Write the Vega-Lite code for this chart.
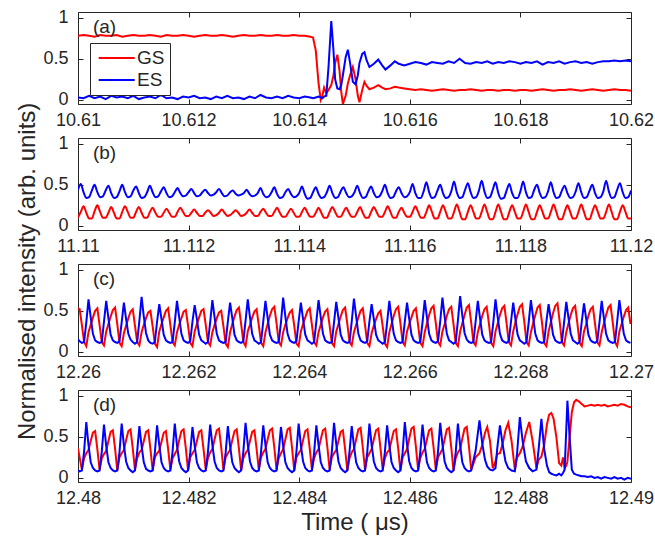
{
"$schema":"https://vega.github.io/schema/vega-lite/v6.json",
"padding":{"left":16,"top":8,"right":0,"bottom":4},
"config":{"font":"Liberation Sans","view":{"stroke":"#262626","strokeWidth":1},
"axis":{"grid":false,"domain":false,"tickColor":"#262626","tickSize":-5,"tickWidth":1,"labelFontSize":18,"labelColor":"#262626","labelFlush":false,"labelOverlap":false,"titleFontSize":24,"titleFontWeight":"normal","titleColor":"#262626","titlePadding":3},
"axisX":{"labelPadding":12},"axisY":{"labelPadding":15},
"title":{"fontSize":24,"fontWeight":"normal","color":"#262626"}},
"title":{"text":"Normalised intensity (arb. units)","orient":"left","anchor":"middle","offset":2},
"datasets":{
"a":[
{"t":10.61,"GS":0.78,"ES":0.03},{"t":10.6101,"GS":0.79,"ES":0.02},{"t":10.6102,"GS":0.78,"ES":0.05},{"t":10.6103,"GS":0.77,"ES":0.02},{"t":10.6104,"GS":0.79,"ES":0.04},{"t":10.6105,"GS":0.78,"ES":0.01},{"t":10.6106,"GS":0.78,"ES":0.05},{"t":10.6107,"GS":0.79,"ES":0.03},{"t":10.6108,"GS":0.77,"ES":0.04},{"t":10.6109,"GS":0.78,"ES":0.02},
{"t":10.611,"GS":0.79,"ES":0.05},{"t":10.6111,"GS":0.78,"ES":0.01},{"t":10.6112,"GS":0.78,"ES":0.03},{"t":10.6113,"GS":0.79,"ES":0.04},{"t":10.6114,"GS":0.78,"ES":0.02},{"t":10.6115,"GS":0.77,"ES":0.06},{"t":10.6116,"GS":0.79,"ES":0.02},{"t":10.6117,"GS":0.78,"ES":0.03},{"t":10.6118,"GS":0.78,"ES":0.01},{"t":10.6119,"GS":0.79,"ES":0.04},
{"t":10.612,"GS":0.78,"ES":0.03},{"t":10.6121,"GS":0.77,"ES":0.05},{"t":10.6122,"GS":0.78,"ES":0.02},{"t":10.6123,"GS":0.79,"ES":0.03},{"t":10.6124,"GS":0.78,"ES":0.01},{"t":10.6125,"GS":0.78,"ES":0.04},{"t":10.6126,"GS":0.79,"ES":0.02},{"t":10.6127,"GS":0.78,"ES":0.05},{"t":10.6128,"GS":0.77,"ES":0.02},{"t":10.6129,"GS":0.78,"ES":0.03},
{"t":10.613,"GS":0.79,"ES":0.01},{"t":10.6131,"GS":0.78,"ES":0.04},{"t":10.6132,"GS":0.78,"ES":0.02},{"t":10.6133,"GS":0.79,"ES":0.06},{"t":10.6134,"GS":0.78,"ES":0.03},{"t":10.6135,"GS":0.78,"ES":0.02},{"t":10.6136,"GS":0.79,"ES":0.04},{"t":10.6137,"GS":0.78,"ES":0.02},{"t":10.6138,"GS":0.78,"ES":0.05},{"t":10.6139,"GS":0.79,"ES":0.03},
{"t":10.614,"GS":0.78,"ES":0.02},{"t":10.6141,"GS":0.78,"ES":0.04},{"t":10.6142,"GS":0.77,"ES":0.03},
{"t":10.61425,"GS":0.76,"ES":0.02},{"t":10.6143,"GS":0.6,"ES":0.03},{"t":10.61435,"GS":0.2,"ES":0.04},{"t":10.61439,"GS":0,"ES":0.03},{"t":10.61442,"GS":0.05,"ES":0.02},{"t":10.61445,"GS":0.15,"ES":0.04},{"t":10.61449,"GS":0.08,"ES":0.05},{"t":10.61453,"GS":0.12,"ES":0.4},{"t":10.61458,"GS":0.18,"ES":0.96},{"t":10.61462,"GS":0.3,"ES":0.6},
{"t":10.61465,"GS":0.45,"ES":0.25},{"t":10.61469,"GS":0.55,"ES":0.14},{"t":10.61473,"GS":0.35,"ES":0.13},{"t":10.61476,"GS":0.1,"ES":0.18},{"t":10.61479,"GS":-0.05,"ES":0.3},{"t":10.61484,"GS":0.05,"ES":0.52},{"t":10.61488,"GS":0.2,"ES":0.61},{"t":10.61492,"GS":0.3,"ES":0.45},{"t":10.61497,"GS":0.4,"ES":0.22},{"t":10.61502,"GS":0.25,"ES":0.19},
{"t":10.61506,"GS":0.05,"ES":0.3},{"t":10.61509,"GS":-0.03,"ES":0.45},{"t":10.61514,"GS":0.12,"ES":0.56},{"t":10.61518,"GS":0.22,"ES":0.58},{"t":10.61522,"GS":0.17,"ES":0.48},{"t":10.61527,"GS":0.13,"ES":0.4},{"t":10.61535,"GS":0.15,"ES":0.44},{"t":10.61543,"GS":0.18,"ES":0.49},{"t":10.6155,"GS":0.15,"ES":0.42},{"t":10.61556,"GS":0.13,"ES":0.37},
{"t":10.61565,"GS":0.14,"ES":0.42},{"t":10.61573,"GS":0.16,"ES":0.47},{"t":10.6158,"GS":0.15,"ES":0.44},{"t":10.6159,"GS":0.14,"ES":0.42},
{"t":10.616,"GS":0.13,"ES":0.44},{"t":10.6161,"GS":0.12,"ES":0.46},{"t":10.6162,"GS":0.13,"ES":0.45},{"t":10.6163,"GS":0.12,"ES":0.43},{"t":10.6164,"GS":0.11,"ES":0.46},{"t":10.6165,"GS":0.12,"ES":0.45},{"t":10.6166,"GS":0.13,"ES":0.44},{"t":10.6167,"GS":0.12,"ES":0.47},{"t":10.6168,"GS":0.11,"ES":0.45},{"t":10.6169,"GS":0.12,"ES":0.5},
{"t":10.617,"GS":0.12,"ES":0.45},{"t":10.6171,"GS":0.13,"ES":0.44},{"t":10.6172,"GS":0.12,"ES":0.46},{"t":10.6173,"GS":0.11,"ES":0.45},{"t":10.6174,"GS":0.12,"ES":0.47},{"t":10.6175,"GS":0.12,"ES":0.44},{"t":10.6176,"GS":0.11,"ES":0.46},{"t":10.6177,"GS":0.12,"ES":0.45},{"t":10.6178,"GS":0.12,"ES":0.47},{"t":10.6179,"GS":0.11,"ES":0.46},
{"t":10.618,"GS":0.12,"ES":0.44},{"t":10.6181,"GS":0.12,"ES":0.46},{"t":10.6182,"GS":0.11,"ES":0.45},{"t":10.6183,"GS":0.12,"ES":0.47},{"t":10.6184,"GS":0.13,"ES":0.43},{"t":10.6185,"GS":0.12,"ES":0.46},{"t":10.6186,"GS":0.11,"ES":0.45},{"t":10.6187,"GS":0.12,"ES":0.47},{"t":10.6188,"GS":0.12,"ES":0.44},{"t":10.6189,"GS":0.13,"ES":0.46},
{"t":10.619,"GS":0.12,"ES":0.47},{"t":10.6191,"GS":0.11,"ES":0.45},{"t":10.6192,"GS":0.12,"ES":0.46},{"t":10.6193,"GS":0.13,"ES":0.44},{"t":10.6194,"GS":0.12,"ES":0.46},{"t":10.6195,"GS":0.11,"ES":0.47},{"t":10.6196,"GS":0.12,"ES":0.47},{"t":10.6197,"GS":0.13,"ES":0.48},{"t":10.6198,"GS":0.12,"ES":0.47},{"t":10.6199,"GS":0.12,"ES":0.48},{"t":10.62,"GS":0.11,"ES":0.47}
],
"b":[
{"t":11.11,"GS":0.1,"ES":0.44},
{"t":11.11005,"GS":0.17,"ES":0.51},{"t":11.1101,"GS":0.24,"ES":0.41},{"t":11.11015,"GS":0.16,"ES":0.34},{"t":11.1102,"GS":0.09,"ES":0.35},{"t":11.11025,"GS":0.09,"ES":0.43},
{"t":11.1103,"GS":0.18,"ES":0.5},{"t":11.11035,"GS":0.25,"ES":0.41},{"t":11.1104,"GS":0.17,"ES":0.35},{"t":11.11045,"GS":0.1,"ES":0.36},{"t":11.1105,"GS":0.1,"ES":0.43},
{"t":11.11055,"GS":0.16,"ES":0.49},{"t":11.1106,"GS":0.23,"ES":0.4},{"t":11.11065,"GS":0.16,"ES":0.34},{"t":11.1107,"GS":0.09,"ES":0.35},{"t":11.11075,"GS":0.09,"ES":0.42},
{"t":11.1108,"GS":0.17,"ES":0.5},{"t":11.11085,"GS":0.24,"ES":0.41},{"t":11.1109,"GS":0.17,"ES":0.35},{"t":11.11095,"GS":0.1,"ES":0.36},{"t":11.111,"GS":0.1,"ES":0.43},
{"t":11.11105,"GS":0.17,"ES":0.48},{"t":11.1111,"GS":0.23,"ES":0.4},{"t":11.11115,"GS":0.16,"ES":0.34},{"t":11.1112,"GS":0.1,"ES":0.35},{"t":11.11125,"GS":0.1,"ES":0.41},
{"t":11.1113,"GS":0.17,"ES":0.49},{"t":11.11135,"GS":0.22,"ES":0.41},{"t":11.1114,"GS":0.16,"ES":0.35},{"t":11.11145,"GS":0.11,"ES":0.36},{"t":11.1115,"GS":0.11,"ES":0.42},
{"t":11.11155,"GS":0.16,"ES":0.47},{"t":11.1116,"GS":0.21,"ES":0.4},{"t":11.11165,"GS":0.16,"ES":0.35},{"t":11.1117,"GS":0.11,"ES":0.36},{"t":11.11175,"GS":0.11,"ES":0.41},
{"t":11.1118,"GS":0.17,"ES":0.46},{"t":11.11185,"GS":0.22,"ES":0.4},{"t":11.1119,"GS":0.17,"ES":0.36},{"t":11.11195,"GS":0.12,"ES":0.37},{"t":11.112,"GS":0.12,"ES":0.41},
{"t":11.11205,"GS":0.16,"ES":0.45},{"t":11.1121,"GS":0.2,"ES":0.4},{"t":11.11215,"GS":0.16,"ES":0.36},{"t":11.1122,"GS":0.12,"ES":0.37},{"t":11.11225,"GS":0.12,"ES":0.41},
{"t":11.1123,"GS":0.16,"ES":0.44},{"t":11.11235,"GS":0.19,"ES":0.4},{"t":11.1124,"GS":0.16,"ES":0.37},{"t":11.11245,"GS":0.12,"ES":0.38},{"t":11.1125,"GS":0.13,"ES":0.41},
{"t":11.11255,"GS":0.16,"ES":0.45},{"t":11.1126,"GS":0.2,"ES":0.4},{"t":11.11265,"GS":0.16,"ES":0.36},{"t":11.1127,"GS":0.12,"ES":0.37},{"t":11.11275,"GS":0.13,"ES":0.41},
{"t":11.1128,"GS":0.16,"ES":0.43},{"t":11.11285,"GS":0.19,"ES":0.39},{"t":11.1129,"GS":0.16,"ES":0.37},{"t":11.11295,"GS":0.12,"ES":0.38},{"t":11.113,"GS":0.13,"ES":0.4},
{"t":11.11305,"GS":0.16,"ES":0.44},{"t":11.1131,"GS":0.2,"ES":0.39},{"t":11.11315,"GS":0.16,"ES":0.36},{"t":11.1132,"GS":0.12,"ES":0.37},{"t":11.11325,"GS":0.12,"ES":0.4},
{"t":11.1133,"GS":0.17,"ES":0.46},{"t":11.11335,"GS":0.21,"ES":0.39},{"t":11.1134,"GS":0.16,"ES":0.35},{"t":11.11345,"GS":0.12,"ES":0.36},{"t":11.1135,"GS":0.12,"ES":0.41},
{"t":11.11355,"GS":0.17,"ES":0.47},{"t":11.1136,"GS":0.22,"ES":0.39},{"t":11.11365,"GS":0.16,"ES":0.34},{"t":11.1137,"GS":0.11,"ES":0.35},{"t":11.11375,"GS":0.11,"ES":0.41},
{"t":11.1138,"GS":0.16,"ES":0.45},{"t":11.11385,"GS":0.21,"ES":0.39},{"t":11.1139,"GS":0.16,"ES":0.35},{"t":11.11395,"GS":0.11,"ES":0.36},{"t":11.114,"GS":0.11,"ES":0.4},
{"t":11.11405,"GS":0.17,"ES":0.48},{"t":11.1141,"GS":0.22,"ES":0.39},{"t":11.11415,"GS":0.16,"ES":0.33},{"t":11.1142,"GS":0.11,"ES":0.34},{"t":11.11425,"GS":0.11,"ES":0.41},
{"t":11.1143,"GS":0.16,"ES":0.47},{"t":11.11435,"GS":0.22,"ES":0.39},{"t":11.1144,"GS":0.16,"ES":0.34},{"t":11.11445,"GS":0.1,"ES":0.35},{"t":11.1145,"GS":0.1,"ES":0.41},
{"t":11.11455,"GS":0.17,"ES":0.49},{"t":11.1146,"GS":0.23,"ES":0.4},{"t":11.11465,"GS":0.17,"ES":0.34},{"t":11.1147,"GS":0.11,"ES":0.35},{"t":11.11475,"GS":0.11,"ES":0.42},
{"t":11.1148,"GS":0.17,"ES":0.47},{"t":11.11485,"GS":0.22,"ES":0.4},{"t":11.1149,"GS":0.16,"ES":0.35},{"t":11.11495,"GS":0.11,"ES":0.36},{"t":11.115,"GS":0.11,"ES":0.41},
{"t":11.11505,"GS":0.17,"ES":0.49},{"t":11.1151,"GS":0.23,"ES":0.4},{"t":11.11515,"GS":0.16,"ES":0.34},{"t":11.1152,"GS":0.1,"ES":0.35},{"t":11.11525,"GS":0.1,"ES":0.42},
{"t":11.1153,"GS":0.17,"ES":0.48},{"t":11.11535,"GS":0.23,"ES":0.4},{"t":11.1154,"GS":0.17,"ES":0.35},{"t":11.11545,"GS":0.11,"ES":0.36},{"t":11.1155,"GS":0.11,"ES":0.42},
{"t":11.11555,"GS":0.17,"ES":0.5},{"t":11.1156,"GS":0.24,"ES":0.4},{"t":11.11565,"GS":0.17,"ES":0.34},{"t":11.1157,"GS":0.1,"ES":0.35},{"t":11.11575,"GS":0.1,"ES":0.42},
{"t":11.1158,"GS":0.17,"ES":0.47},{"t":11.11585,"GS":0.22,"ES":0.4},{"t":11.1159,"GS":0.16,"ES":0.35},{"t":11.11595,"GS":0.11,"ES":0.36},{"t":11.116,"GS":0.11,"ES":0.41},
{"t":11.11605,"GS":0.17,"ES":0.51},{"t":11.1161,"GS":0.24,"ES":0.4},{"t":11.11615,"GS":0.17,"ES":0.34},{"t":11.1162,"GS":0.1,"ES":0.34},{"t":11.11625,"GS":0.1,"ES":0.42},
{"t":11.1163,"GS":0.17,"ES":0.53},{"t":11.11635,"GS":0.25,"ES":0.41},{"t":11.1164,"GS":0.17,"ES":0.34},{"t":11.11645,"GS":0.09,"ES":0.35},{"t":11.1165,"GS":0.09,"ES":0.43},
{"t":11.11655,"GS":0.17,"ES":0.5},{"t":11.1166,"GS":0.25,"ES":0.4},{"t":11.11665,"GS":0.17,"ES":0.34},{"t":11.1167,"GS":0.09,"ES":0.35},{"t":11.11675,"GS":0.09,"ES":0.42},
{"t":11.1168,"GS":0.17,"ES":0.54},{"t":11.11685,"GS":0.26,"ES":0.41},{"t":11.1169,"GS":0.17,"ES":0.34},{"t":11.11695,"GS":0.08,"ES":0.35},{"t":11.117,"GS":0.08,"ES":0.44},
{"t":11.11705,"GS":0.17,"ES":0.52},{"t":11.1171,"GS":0.25,"ES":0.41},{"t":11.11715,"GS":0.17,"ES":0.34},{"t":11.1172,"GS":0.09,"ES":0.35},{"t":11.11725,"GS":0.09,"ES":0.43},
{"t":11.1173,"GS":0.17,"ES":0.55},{"t":11.11735,"GS":0.26,"ES":0.42},{"t":11.1174,"GS":0.17,"ES":0.34},{"t":11.11745,"GS":0.08,"ES":0.35},{"t":11.1175,"GS":0.08,"ES":0.44},
{"t":11.11755,"GS":0.17,"ES":0.53},{"t":11.1176,"GS":0.26,"ES":0.4},{"t":11.11765,"GS":0.17,"ES":0.33},{"t":11.1177,"GS":0.08,"ES":0.34},{"t":11.11775,"GS":0.08,"ES":0.43},
{"t":11.1178,"GS":0.17,"ES":0.51},{"t":11.11785,"GS":0.25,"ES":0.4},{"t":11.1179,"GS":0.17,"ES":0.34},{"t":11.11795,"GS":0.09,"ES":0.34},{"t":11.118,"GS":0.09,"ES":0.42},
{"t":11.11805,"GS":0.17,"ES":0.54},{"t":11.1181,"GS":0.26,"ES":0.41},{"t":11.11815,"GS":0.17,"ES":0.34},{"t":11.1182,"GS":0.08,"ES":0.35},{"t":11.11825,"GS":0.08,"ES":0.44},
{"t":11.1183,"GS":0.17,"ES":0.5},{"t":11.11835,"GS":0.25,"ES":0.4},{"t":11.1184,"GS":0.17,"ES":0.34},{"t":11.11845,"GS":0.09,"ES":0.35},{"t":11.1185,"GS":0.09,"ES":0.42},
{"t":11.11855,"GS":0.17,"ES":0.53},{"t":11.1186,"GS":0.26,"ES":0.41},{"t":11.11865,"GS":0.17,"ES":0.34},{"t":11.1187,"GS":0.08,"ES":0.35},{"t":11.11875,"GS":0.08,"ES":0.43},
{"t":11.1188,"GS":0.17,"ES":0.49},{"t":11.11885,"GS":0.25,"ES":0.4},{"t":11.1189,"GS":0.17,"ES":0.34},{"t":11.11895,"GS":0.09,"ES":0.35},{"t":11.119,"GS":0.09,"ES":0.42},
{"t":11.11905,"GS":0.17,"ES":0.52},{"t":11.1191,"GS":0.26,"ES":0.41},{"t":11.11915,"GS":0.17,"ES":0.34},{"t":11.1192,"GS":0.08,"ES":0.35},{"t":11.11925,"GS":0.08,"ES":0.43},
{"t":11.1193,"GS":0.17,"ES":0.5},{"t":11.11935,"GS":0.25,"ES":0.4},{"t":11.1194,"GS":0.17,"ES":0.34},{"t":11.11945,"GS":0.09,"ES":0.35},{"t":11.1195,"GS":0.09,"ES":0.42},
{"t":11.11955,"GS":0.17,"ES":0.55},{"t":11.1196,"GS":0.26,"ES":0.42},{"t":11.11965,"GS":0.17,"ES":0.34},{"t":11.1197,"GS":0.08,"ES":0.35},{"t":11.11975,"GS":0.08,"ES":0.44},
{"t":11.1198,"GS":0.17,"ES":0.52},{"t":11.11985,"GS":0.25,"ES":0.41},{"t":11.1199,"GS":0.17,"ES":0.34},{"t":11.11995,"GS":0.09,"ES":0.35},{"t":11.12,"GS":0.09,"ES":0.43}
],
"c":[
{"t":12.26,"GS":0.53,"ES":0.15},{"t":12.26003,"GS":0.52,"ES":0.13},{"t":12.26007,"GS":0.33,"ES":0.11},{"t":12.26011,"GS":0.12,"ES":0.12},{"t":12.26015,"GS":0.07,"ES":0.36},
{"t":12.26019,"GS":0.24,"ES":0.64},{"t":12.26023,"GS":0.33,"ES":0.42},{"t":12.26027,"GS":0.42,"ES":0.22},{"t":12.26031,"GS":0.5,"ES":0.14},{"t":12.26035,"GS":0.53,"ES":0.12},{"t":12.26039,"GS":0.33,"ES":0.11},{"t":12.26043,"GS":0.12,"ES":0.12},{"t":12.26047,"GS":0.08,"ES":0.37},
{"t":12.26051,"GS":0.25,"ES":0.62},{"t":12.26055,"GS":0.34,"ES":0.41},{"t":12.26059,"GS":0.43,"ES":0.21},{"t":12.26063,"GS":0.51,"ES":0.14},{"t":12.26067,"GS":0.54,"ES":0.12},{"t":12.26071,"GS":0.34,"ES":0.11},{"t":12.26075,"GS":0.11,"ES":0.13},{"t":12.26079,"GS":0.07,"ES":0.36},
{"t":12.26083,"GS":0.23,"ES":0.6},{"t":12.26087,"GS":0.32,"ES":0.4},{"t":12.26091,"GS":0.41,"ES":0.22},{"t":12.26095,"GS":0.49,"ES":0.15},{"t":12.26099,"GS":0.52,"ES":0.12},{"t":12.26103,"GS":0.32,"ES":0.1},{"t":12.26107,"GS":0.12,"ES":0.12},{"t":12.26111,"GS":0.08,"ES":0.38},
{"t":12.26115,"GS":0.24,"ES":0.67},{"t":12.26119,"GS":0.33,"ES":0.43},{"t":12.26123,"GS":0.41,"ES":0.23},{"t":12.26127,"GS":0.48,"ES":0.14},{"t":12.26131,"GS":0.5,"ES":0.11},{"t":12.26135,"GS":0.31,"ES":0.1},{"t":12.26139,"GS":0.1,"ES":0.12},{"t":12.26143,"GS":0.06,"ES":0.37},
{"t":12.26147,"GS":0.25,"ES":0.58},{"t":12.26151,"GS":0.34,"ES":0.4},{"t":12.26155,"GS":0.42,"ES":0.21},{"t":12.26159,"GS":0.5,"ES":0.14},{"t":12.26163,"GS":0.53,"ES":0.12},{"t":12.26167,"GS":0.33,"ES":0.11},{"t":12.26171,"GS":0.12,"ES":0.12},{"t":12.26175,"GS":0.08,"ES":0.36},
{"t":12.26179,"GS":0.24,"ES":0.62},{"t":12.26183,"GS":0.33,"ES":0.42},{"t":12.26187,"GS":0.41,"ES":0.22},{"t":12.26191,"GS":0.49,"ES":0.14},{"t":12.26195,"GS":0.51,"ES":0.12},{"t":12.26199,"GS":0.32,"ES":0.11},{"t":12.26203,"GS":0.11,"ES":0.13},{"t":12.26207,"GS":0.07,"ES":0.37},
{"t":12.26211,"GS":0.25,"ES":0.57},{"t":12.26215,"GS":0.34,"ES":0.4},{"t":12.26219,"GS":0.42,"ES":0.21},{"t":12.26223,"GS":0.5,"ES":0.14},{"t":12.26227,"GS":0.52,"ES":0.12},{"t":12.26231,"GS":0.33,"ES":0.1},{"t":12.26235,"GS":0.12,"ES":0.12},{"t":12.26239,"GS":0.08,"ES":0.36},
{"t":12.26243,"GS":0.24,"ES":0.63},{"t":12.26247,"GS":0.33,"ES":0.42},{"t":12.26251,"GS":0.41,"ES":0.22},{"t":12.26255,"GS":0.48,"ES":0.14},{"t":12.26259,"GS":0.5,"ES":0.12},{"t":12.26263,"GS":0.31,"ES":0.11},{"t":12.26267,"GS":0.1,"ES":0.12},{"t":12.26271,"GS":0.06,"ES":0.37},
{"t":12.26275,"GS":0.24,"ES":0.6},{"t":12.26279,"GS":0.34,"ES":0.41},{"t":12.26283,"GS":0.43,"ES":0.21},{"t":12.26287,"GS":0.51,"ES":0.14},{"t":12.26291,"GS":0.54,"ES":0.12},{"t":12.26295,"GS":0.34,"ES":0.11},{"t":12.26299,"GS":0.12,"ES":0.13},{"t":12.26303,"GS":0.07,"ES":0.38},
{"t":12.26307,"GS":0.25,"ES":0.64},{"t":12.26311,"GS":0.33,"ES":0.42},{"t":12.26315,"GS":0.42,"ES":0.22},{"t":12.26319,"GS":0.49,"ES":0.14},{"t":12.26323,"GS":0.52,"ES":0.12},{"t":12.26327,"GS":0.32,"ES":0.1},{"t":12.26331,"GS":0.11,"ES":0.12},{"t":12.26335,"GS":0.07,"ES":0.37},
{"t":12.26339,"GS":0.24,"ES":0.62},{"t":12.26343,"GS":0.34,"ES":0.41},{"t":12.26347,"GS":0.44,"ES":0.21},{"t":12.26351,"GS":0.52,"ES":0.14},{"t":12.26355,"GS":0.55,"ES":0.12},{"t":12.26359,"GS":0.35,"ES":0.11},{"t":12.26363,"GS":0.12,"ES":0.12},{"t":12.26367,"GS":0.08,"ES":0.36},
{"t":12.26371,"GS":0.24,"ES":0.66},{"t":12.26375,"GS":0.33,"ES":0.43},{"t":12.26379,"GS":0.41,"ES":0.22},{"t":12.26383,"GS":0.48,"ES":0.14},{"t":12.26387,"GS":0.51,"ES":0.12},{"t":12.26391,"GS":0.32,"ES":0.11},{"t":12.26395,"GS":0.1,"ES":0.13},{"t":12.26399,"GS":0.07,"ES":0.37},
{"t":12.26403,"GS":0.25,"ES":0.6},{"t":12.26407,"GS":0.34,"ES":0.4},{"t":12.26411,"GS":0.42,"ES":0.21},{"t":12.26415,"GS":0.5,"ES":0.14},{"t":12.26419,"GS":0.53,"ES":0.12},{"t":12.26423,"GS":0.33,"ES":0.1},{"t":12.26427,"GS":0.12,"ES":0.12},{"t":12.26431,"GS":0.08,"ES":0.37},
{"t":12.26435,"GS":0.24,"ES":0.63},{"t":12.26439,"GS":0.33,"ES":0.42},{"t":12.26443,"GS":0.42,"ES":0.22},{"t":12.26447,"GS":0.49,"ES":0.14},{"t":12.26451,"GS":0.52,"ES":0.12},{"t":12.26455,"GS":0.32,"ES":0.11},{"t":12.26459,"GS":0.11,"ES":0.12},{"t":12.26463,"GS":0.07,"ES":0.36},
{"t":12.26467,"GS":0.25,"ES":0.61},{"t":12.26471,"GS":0.34,"ES":0.41},{"t":12.26475,"GS":0.43,"ES":0.21},{"t":12.26479,"GS":0.51,"ES":0.14},{"t":12.26483,"GS":0.54,"ES":0.12},{"t":12.26487,"GS":0.34,"ES":0.11},{"t":12.26491,"GS":0.12,"ES":0.12},{"t":12.26495,"GS":0.08,"ES":0.37},
{"t":12.26499,"GS":0.24,"ES":0.65},{"t":12.26503,"GS":0.33,"ES":0.43},{"t":12.26507,"GS":0.42,"ES":0.22},{"t":12.26511,"GS":0.5,"ES":0.14},{"t":12.26515,"GS":0.53,"ES":0.12},{"t":12.26519,"GS":0.33,"ES":0.11},{"t":12.26523,"GS":0.11,"ES":0.13},{"t":12.26527,"GS":0.07,"ES":0.37},
{"t":12.26531,"GS":0.23,"ES":0.58},{"t":12.26535,"GS":0.32,"ES":0.4},{"t":12.26539,"GS":0.4,"ES":0.21},{"t":12.26543,"GS":0.47,"ES":0.14},{"t":12.26547,"GS":0.5,"ES":0.12},{"t":12.26551,"GS":0.31,"ES":0.1},{"t":12.26555,"GS":0.1,"ES":0.12},{"t":12.26559,"GS":0.06,"ES":0.36},
{"t":12.26563,"GS":0.24,"ES":0.62},{"t":12.26567,"GS":0.34,"ES":0.41},{"t":12.26571,"GS":0.44,"ES":0.22},{"t":12.26575,"GS":0.52,"ES":0.14},{"t":12.26579,"GS":0.55,"ES":0.12},{"t":12.26583,"GS":0.35,"ES":0.11},{"t":12.26587,"GS":0.12,"ES":0.12},{"t":12.26591,"GS":0.08,"ES":0.37},
{"t":12.26595,"GS":0.25,"ES":0.6},{"t":12.26599,"GS":0.34,"ES":0.4},{"t":12.26603,"GS":0.42,"ES":0.21},{"t":12.26607,"GS":0.5,"ES":0.14},{"t":12.26611,"GS":0.53,"ES":0.12},{"t":12.26615,"GS":0.33,"ES":0.11},{"t":12.26619,"GS":0.11,"ES":0.12},{"t":12.26623,"GS":0.07,"ES":0.36},
{"t":12.26627,"GS":0.24,"ES":0.63},{"t":12.26631,"GS":0.35,"ES":0.42},{"t":12.26635,"GS":0.45,"ES":0.22},{"t":12.26639,"GS":0.53,"ES":0.14},{"t":12.26643,"GS":0.56,"ES":0.12},{"t":12.26647,"GS":0.35,"ES":0.11},{"t":12.26651,"GS":0.12,"ES":0.13},{"t":12.26655,"GS":0.08,"ES":0.37},
{"t":12.26659,"GS":0.25,"ES":0.66},{"t":12.26663,"GS":0.34,"ES":0.43},{"t":12.26667,"GS":0.44,"ES":0.22},{"t":12.26671,"GS":0.52,"ES":0.14},{"t":12.26675,"GS":0.55,"ES":0.12},{"t":12.26679,"GS":0.34,"ES":0.1},{"t":12.26683,"GS":0.11,"ES":0.12},{"t":12.26687,"GS":0.07,"ES":0.38},
{"t":12.26691,"GS":0.25,"ES":0.68},{"t":12.26695,"GS":0.35,"ES":0.44},{"t":12.26699,"GS":0.45,"ES":0.23},{"t":12.26703,"GS":0.54,"ES":0.15},{"t":12.26707,"GS":0.57,"ES":0.12},{"t":12.26711,"GS":0.36,"ES":0.11},{"t":12.26715,"GS":0.12,"ES":0.12},{"t":12.26719,"GS":0.08,"ES":0.37},
{"t":12.26723,"GS":0.24,"ES":0.62},{"t":12.26727,"GS":0.34,"ES":0.41},{"t":12.26731,"GS":0.44,"ES":0.21},{"t":12.26735,"GS":0.52,"ES":0.14},{"t":12.26739,"GS":0.55,"ES":0.12},{"t":12.26743,"GS":0.35,"ES":0.11},{"t":12.26747,"GS":0.11,"ES":0.12},{"t":12.26751,"GS":0.07,"ES":0.36},
{"t":12.26755,"GS":0.25,"ES":0.64},{"t":12.26759,"GS":0.35,"ES":0.42},{"t":12.26763,"GS":0.45,"ES":0.22},{"t":12.26767,"GS":0.53,"ES":0.14},{"t":12.26771,"GS":0.56,"ES":0.12},{"t":12.26775,"GS":0.35,"ES":0.11},{"t":12.26779,"GS":0.12,"ES":0.13},{"t":12.26783,"GS":0.08,"ES":0.37},
{"t":12.26787,"GS":0.25,"ES":0.6},{"t":12.26791,"GS":0.36,"ES":0.4},{"t":12.26795,"GS":0.46,"ES":0.21},{"t":12.26799,"GS":0.55,"ES":0.14},{"t":12.26803,"GS":0.58,"ES":0.12},{"t":12.26807,"GS":0.37,"ES":0.1},{"t":12.26811,"GS":0.12,"ES":0.12},{"t":12.26815,"GS":0.08,"ES":0.36},
{"t":12.26819,"GS":0.24,"ES":0.63},{"t":12.26823,"GS":0.35,"ES":0.42},{"t":12.26827,"GS":0.45,"ES":0.22},{"t":12.26831,"GS":0.54,"ES":0.14},{"t":12.26835,"GS":0.57,"ES":0.12},{"t":12.26839,"GS":0.36,"ES":0.11},{"t":12.26843,"GS":0.11,"ES":0.12},{"t":12.26847,"GS":0.07,"ES":0.37},
{"t":12.26851,"GS":0.25,"ES":0.58},{"t":12.26855,"GS":0.36,"ES":0.4},{"t":12.26859,"GS":0.47,"ES":0.21},{"t":12.26863,"GS":0.56,"ES":0.14},{"t":12.26867,"GS":0.59,"ES":0.12},{"t":12.26871,"GS":0.37,"ES":0.11},{"t":12.26875,"GS":0.12,"ES":0.12},{"t":12.26879,"GS":0.08,"ES":0.36},
{"t":12.26883,"GS":0.24,"ES":0.61},{"t":12.26887,"GS":0.35,"ES":0.41},{"t":12.26891,"GS":0.45,"ES":0.22},{"t":12.26895,"GS":0.53,"ES":0.14},{"t":12.26899,"GS":0.56,"ES":0.12},{"t":12.26903,"GS":0.35,"ES":0.1},{"t":12.26907,"GS":0.11,"ES":0.12},{"t":12.26911,"GS":0.07,"ES":0.37},
{"t":12.26915,"GS":0.25,"ES":0.59},{"t":12.26919,"GS":0.34,"ES":0.4},{"t":12.26923,"GS":0.44,"ES":0.21},{"t":12.26927,"GS":0.52,"ES":0.14},{"t":12.26931,"GS":0.55,"ES":0.12},{"t":12.26935,"GS":0.34,"ES":0.11},{"t":12.26939,"GS":0.12,"ES":0.13},{"t":12.26943,"GS":0.08,"ES":0.36},
{"t":12.26947,"GS":0.24,"ES":0.62},{"t":12.26951,"GS":0.35,"ES":0.41},{"t":12.26955,"GS":0.45,"ES":0.22},{"t":12.26959,"GS":0.54,"ES":0.14},{"t":12.26963,"GS":0.57,"ES":0.12},{"t":12.26967,"GS":0.36,"ES":0.11},{"t":12.26971,"GS":0.12,"ES":0.12},{"t":12.26975,"GS":0.07,"ES":0.37},
{"t":12.26979,"GS":0.25,"ES":0.63},{"t":12.26983,"GS":0.34,"ES":0.42},{"t":12.26987,"GS":0.43,"ES":0.22},{"t":12.26991,"GS":0.51,"ES":0.14},{"t":12.26995,"GS":0.54,"ES":0.12},{"t":12.26999,"GS":0.34,"ES":0.11}
],
"d":[
{"t":12.48,"GS":0.36,"ES":0.09},{"t":12.48003,"GS":0.25,"ES":0.08},{"t":12.48007,"GS":0.1,"ES":0.09},{"t":12.48011,"GS":0.24,"ES":0.32},
{"t":12.48015,"GS":0.3,"ES":0.68},{"t":12.48019,"GS":0.34,"ES":0.4},{"t":12.48023,"GS":0.45,"ES":0.19},{"t":12.48027,"GS":0.55,"ES":0.12},{"t":12.48031,"GS":0.57,"ES":0.09},{"t":12.48035,"GS":0.35,"ES":0.08},{"t":12.48039,"GS":0.1,"ES":0.09},{"t":12.48043,"GS":0.24,"ES":0.32},
{"t":12.48047,"GS":0.29,"ES":0.65},{"t":12.48051,"GS":0.33,"ES":0.39},{"t":12.48055,"GS":0.45,"ES":0.19},{"t":12.48059,"GS":0.56,"ES":0.12},{"t":12.48063,"GS":0.58,"ES":0.09},{"t":12.48067,"GS":0.36,"ES":0.08},{"t":12.48071,"GS":0.09,"ES":0.09},{"t":12.48075,"GS":0.25,"ES":0.31},
{"t":12.48079,"GS":0.3,"ES":0.66},{"t":12.48083,"GS":0.34,"ES":0.4},{"t":12.48087,"GS":0.46,"ES":0.2},{"t":12.48091,"GS":0.57,"ES":0.12},{"t":12.48095,"GS":0.59,"ES":0.09},{"t":12.48099,"GS":0.36,"ES":0.07},{"t":12.48103,"GS":0.1,"ES":0.09},{"t":12.48107,"GS":0.24,"ES":0.32},
{"t":12.48111,"GS":0.31,"ES":0.63},{"t":12.48115,"GS":0.34,"ES":0.39},{"t":12.48119,"GS":0.45,"ES":0.19},{"t":12.48123,"GS":0.56,"ES":0.11},{"t":12.48127,"GS":0.58,"ES":0.09},{"t":12.48131,"GS":0.35,"ES":0.08},{"t":12.48135,"GS":0.09,"ES":0.09},{"t":12.48139,"GS":0.25,"ES":0.31},
{"t":12.48143,"GS":0.3,"ES":0.64},{"t":12.48147,"GS":0.33,"ES":0.4},{"t":12.48151,"GS":0.44,"ES":0.19},{"t":12.48155,"GS":0.55,"ES":0.12},{"t":12.48159,"GS":0.57,"ES":0.09},{"t":12.48163,"GS":0.35,"ES":0.08},{"t":12.48167,"GS":0.1,"ES":0.09},{"t":12.48171,"GS":0.24,"ES":0.32},
{"t":12.48175,"GS":0.29,"ES":0.66},{"t":12.48179,"GS":0.34,"ES":0.4},{"t":12.48183,"GS":0.46,"ES":0.2},{"t":12.48187,"GS":0.57,"ES":0.12},{"t":12.48191,"GS":0.59,"ES":0.09},{"t":12.48195,"GS":0.36,"ES":0.07},{"t":12.48199,"GS":0.09,"ES":0.09},{"t":12.48203,"GS":0.25,"ES":0.31},
{"t":12.48207,"GS":0.3,"ES":0.62},{"t":12.48211,"GS":0.34,"ES":0.39},{"t":12.48215,"GS":0.45,"ES":0.19},{"t":12.48219,"GS":0.56,"ES":0.12},{"t":12.48223,"GS":0.58,"ES":0.09},{"t":12.48227,"GS":0.35,"ES":0.08},{"t":12.48231,"GS":0.1,"ES":0.09},{"t":12.48235,"GS":0.24,"ES":0.32},
{"t":12.48239,"GS":0.31,"ES":0.65},{"t":12.48243,"GS":0.35,"ES":0.4},{"t":12.48247,"GS":0.47,"ES":0.2},{"t":12.48251,"GS":0.58,"ES":0.12},{"t":12.48255,"GS":0.6,"ES":0.09},{"t":12.48259,"GS":0.37,"ES":0.08},{"t":12.48263,"GS":0.1,"ES":0.09},{"t":12.48267,"GS":0.25,"ES":0.31},
{"t":12.48271,"GS":0.3,"ES":0.63},{"t":12.48275,"GS":0.34,"ES":0.39},{"t":12.48279,"GS":0.46,"ES":0.19},{"t":12.48283,"GS":0.57,"ES":0.12},{"t":12.48287,"GS":0.59,"ES":0.09},{"t":12.48291,"GS":0.36,"ES":0.07},{"t":12.48295,"GS":0.09,"ES":0.09},{"t":12.48299,"GS":0.24,"ES":0.32},
{"t":12.48303,"GS":0.3,"ES":0.67},{"t":12.48307,"GS":0.34,"ES":0.41},{"t":12.48311,"GS":0.45,"ES":0.2},{"t":12.48315,"GS":0.56,"ES":0.12},{"t":12.48319,"GS":0.58,"ES":0.09},{"t":12.48323,"GS":0.35,"ES":0.08},{"t":12.48327,"GS":0.1,"ES":0.09},{"t":12.48331,"GS":0.25,"ES":0.32},
{"t":12.48335,"GS":0.31,"ES":0.64},{"t":12.48339,"GS":0.35,"ES":0.4},{"t":12.48343,"GS":0.47,"ES":0.19},{"t":12.48347,"GS":0.58,"ES":0.12},{"t":12.48351,"GS":0.6,"ES":0.09},{"t":12.48355,"GS":0.37,"ES":0.08},{"t":12.48359,"GS":0.1,"ES":0.09},{"t":12.48363,"GS":0.24,"ES":0.31},
{"t":12.48367,"GS":0.3,"ES":0.62},{"t":12.48371,"GS":0.35,"ES":0.39},{"t":12.48375,"GS":0.47,"ES":0.19},{"t":12.48379,"GS":0.59,"ES":0.12},{"t":12.48383,"GS":0.61,"ES":0.09},{"t":12.48387,"GS":0.37,"ES":0.07},{"t":12.48391,"GS":0.09,"ES":0.09},{"t":12.48395,"GS":0.25,"ES":0.32},
{"t":12.48399,"GS":0.3,"ES":0.66},{"t":12.48403,"GS":0.34,"ES":0.4},{"t":12.48407,"GS":0.46,"ES":0.2},{"t":12.48411,"GS":0.57,"ES":0.12},{"t":12.48415,"GS":0.59,"ES":0.09},{"t":12.48419,"GS":0.36,"ES":0.08},{"t":12.48423,"GS":0.1,"ES":0.09},{"t":12.48427,"GS":0.24,"ES":0.31},
{"t":12.48431,"GS":0.31,"ES":0.64},{"t":12.48435,"GS":0.35,"ES":0.4},{"t":12.48439,"GS":0.47,"ES":0.19},{"t":12.48443,"GS":0.58,"ES":0.12},{"t":12.48447,"GS":0.6,"ES":0.09},{"t":12.48451,"GS":0.37,"ES":0.08},{"t":12.48455,"GS":0.1,"ES":0.09},{"t":12.48459,"GS":0.25,"ES":0.32},
{"t":12.48463,"GS":0.3,"ES":0.67},{"t":12.48467,"GS":0.34,"ES":0.41},{"t":12.48471,"GS":0.45,"ES":0.2},{"t":12.48475,"GS":0.56,"ES":0.12},{"t":12.48479,"GS":0.58,"ES":0.09},{"t":12.48483,"GS":0.35,"ES":0.07},{"t":12.48487,"GS":0.09,"ES":0.09},{"t":12.48491,"GS":0.24,"ES":0.32},
{"t":12.48495,"GS":0.31,"ES":0.63},{"t":12.48499,"GS":0.35,"ES":0.39},{"t":12.48503,"GS":0.47,"ES":0.19},{"t":12.48507,"GS":0.59,"ES":0.12},{"t":12.48511,"GS":0.61,"ES":0.09},{"t":12.48515,"GS":0.37,"ES":0.08},{"t":12.48519,"GS":0.1,"ES":0.09},{"t":12.48523,"GS":0.25,"ES":0.31},
{"t":12.48527,"GS":0.3,"ES":0.66},{"t":12.48531,"GS":0.35,"ES":0.4},{"t":12.48535,"GS":0.47,"ES":0.2},{"t":12.48539,"GS":0.58,"ES":0.12},{"t":12.48543,"GS":0.6,"ES":0.09},{"t":12.48547,"GS":0.36,"ES":0.08},{"t":12.48551,"GS":0.1,"ES":0.09},{"t":12.48555,"GS":0.24,"ES":0.32},
{"t":12.48559,"GS":0.31,"ES":0.64},{"t":12.48563,"GS":0.34,"ES":0.4},{"t":12.48567,"GS":0.46,"ES":0.19},{"t":12.48571,"GS":0.57,"ES":0.12},{"t":12.48575,"GS":0.59,"ES":0.09},{"t":12.48579,"GS":0.36,"ES":0.07},{"t":12.48583,"GS":0.09,"ES":0.09},{"t":12.48587,"GS":0.25,"ES":0.31},
{"t":12.48591,"GS":0.3,"ES":0.68},{"t":12.48595,"GS":0.35,"ES":0.41},{"t":12.48599,"GS":0.48,"ES":0.2},{"t":12.48603,"GS":0.6,"ES":0.12},{"t":12.48607,"GS":0.62,"ES":0.09},{"t":12.48611,"GS":0.38,"ES":0.08},{"t":12.48615,"GS":0.1,"ES":0.09},{"t":12.48619,"GS":0.24,"ES":0.32},
{"t":12.48623,"GS":0.31,"ES":0.65},{"t":12.48627,"GS":0.35,"ES":0.4},{"t":12.48631,"GS":0.47,"ES":0.19},{"t":12.48635,"GS":0.58,"ES":0.12},{"t":12.48639,"GS":0.6,"ES":0.09},{"t":12.48643,"GS":0.37,"ES":0.08},{"t":12.48647,"GS":0.1,"ES":0.09},{"t":12.48651,"GS":0.25,"ES":0.32},
{"t":12.48655,"GS":0.3,"ES":0.67},{"t":12.48659,"GS":0.35,"ES":0.41},{"t":12.48663,"GS":0.47,"ES":0.2},{"t":12.48667,"GS":0.59,"ES":0.12},{"t":12.48671,"GS":0.61,"ES":0.09},{"t":12.48675,"GS":0.37,"ES":0.07},{"t":12.48679,"GS":0.09,"ES":0.09},{"t":12.48683,"GS":0.24,"ES":0.31},
{"t":12.48687,"GS":0.31,"ES":0.66},{"t":12.48691,"GS":0.35,"ES":0.4},{"t":12.48695,"GS":0.48,"ES":0.19},{"t":12.48699,"GS":0.6,"ES":0.12},{"t":12.48703,"GS":0.62,"ES":0.09},{"t":12.48707,"GS":0.38,"ES":0.08},{"t":12.48711,"GS":0.1,"ES":0.09},
{"t":12.48719,"GS":0.25,"ES":0.33},{"t":12.48726,"GS":0.3,"ES":0.7},{"t":12.48731,"GS":0.4,"ES":0.42},{"t":12.48736,"GS":0.55,"ES":0.22},{"t":12.4874,"GS":0.62,"ES":0.14},{"t":12.48745,"GS":0.45,"ES":0.1},{"t":12.4875,"GS":0.12,"ES":0.09},{"t":12.48755,"GS":0.2,"ES":0.12},
{"t":12.48758,"GS":0.29,"ES":0.35},{"t":12.48763,"GS":0.3,"ES":0.64},{"t":12.48768,"GS":0.42,"ES":0.4},{"t":12.48773,"GS":0.58,"ES":0.2},{"t":12.48778,"GS":0.67,"ES":0.12},{"t":12.48784,"GS":0.45,"ES":0.09},{"t":12.4879,"GS":0.1,"ES":0.08},{"t":12.48794,"GS":0.25,"ES":0.3},
{"t":12.48799,"GS":0.3,"ES":0.74},{"t":12.48804,"GS":0.38,"ES":0.45},{"t":12.4881,"GS":0.55,"ES":0.2},{"t":12.48816,"GS":0.68,"ES":0.12},{"t":12.48822,"GS":0.45,"ES":0.08},{"t":12.48829,"GS":0.12,"ES":0.1},{"t":12.48833,"GS":0.22,"ES":0.35},{"t":12.48838,"GS":0.26,"ES":0.72},
{"t":12.48843,"GS":0.4,"ES":0.35},{"t":12.48848,"GS":0.65,"ES":0.15},{"t":12.48852,"GS":0.77,"ES":0.07},{"t":12.48856,"GS":0.79,"ES":0.05},{"t":12.4886,"GS":0.72,"ES":0.04},{"t":12.48865,"GS":0.5,"ES":0.03},{"t":12.4887,"GS":0.18,"ES":0.05},{"t":12.48874,"GS":0.15,"ES":0.03},
{"t":12.48877,"GS":0.25,"ES":0.06},{"t":12.4888,"GS":0.12,"ES":0.1},{"t":12.48883,"GS":0.15,"ES":0.6},{"t":12.48885,"GS":0.2,"ES":0.94},{"t":12.48889,"GS":0.5,"ES":0.5},{"t":12.48893,"GS":0.8,"ES":0.1},{"t":12.48897,"GS":0.92,"ES":0.05},{"t":12.48901,"GS":0.95,"ES":0.04},
{"t":12.48906,"GS":0.93,"ES":0.03},{"t":12.48911,"GS":0.9,"ES":0.02},{"t":12.48916,"GS":0.87,"ES":0.02},{"t":12.48922,"GS":0.88,"ES":0.01},{"t":12.48928,"GS":0.89,"ES":0.02},{"t":12.48934,"GS":0.88,"ES":0},{"t":12.4894,"GS":0.89,"ES":0.01},{"t":12.48946,"GS":0.88,"ES":-0.01},
{"t":12.48952,"GS":0.89,"ES":0.01},{"t":12.48958,"GS":0.87,"ES":0},{"t":12.48964,"GS":0.88,"ES":-0.01},{"t":12.4897,"GS":0.89,"ES":0.01},{"t":12.48976,"GS":0.88,"ES":-0.01},{"t":12.48982,"GS":0.9,"ES":0},{"t":12.48988,"GS":0.89,"ES":-0.02},{"t":12.48994,"GS":0.87,"ES":0},{"t":12.49,"GS":0.86,"ES":-0.01}
]},
"spacing":34,
"bounds":"flush",
"resolve":{"scale":{"color":"independent"}},
"vconcat":[
{"width":553,"height":92,"layer":[
 {"data":{"name":"a"},"transform":[{"fold":["GS","ES"],"as":["s","v"]}],"mark":{"type":"line","strokeWidth":2,"clip":true},
  "encoding":{"x":{"field":"t","type":"quantitative","scale":{"domain":[10.61,10.62],"nice":false,"zero":false},"axis":{"orient":"bottom","values":[10.61,10.612,10.614,10.616,10.618,10.62],"format":"~g","title":null}},
   "y":{"field":"v","type":"quantitative","scale":{"domain":[-0.05,1.07],"nice":false,"zero":false},"axis":{"orient":"left","values":[0,0.5,1],"format":"~g","title":null}},
   "color":{"field":"s","type":"nominal","scale":{"domain":["GS","ES"],"range":["#ff0000","#0000ff"]},"legend":{"orient":"none","legendX":12,"legendY":31,"title":null,"fillColor":"white","strokeColor":"#262626","padding":5,"symbolType":"M-0.7,0H3.3","symbolSize":324,"symbolStrokeWidth":2,"labelFontSize":19,"labelColor":"#262626","labelOffset":22,"rowPadding":2}}}},
 {"data":{"values":[{}]},"mark":{"type":"text","align":"left","baseline":"middle","fontSize":19,"color":"#262626"},
  "encoding":{"x":{"datum":10.61027,"type":"quantitative","scale":{"domain":[10.61,10.62],"nice":false,"zero":false},"axis":{"orient":"top","values":[10.61,10.612,10.614,10.616,10.618,10.62],"labels":false,"title":null}},
   "y":{"datum":0.89,"type":"quantitative","scale":{"domain":[-0.05,1.07],"nice":false,"zero":false},"axis":{"orient":"right","values":[0,0.5,1],"labels":false,"title":null}},
   "text":{"value":"(a)"}}}
],"resolve":{"axis":{"x":"independent","y":"independent"}}},
{"width":553,"height":92,"layer":[
 {"data":{"name":"b"},"transform":[{"fold":["GS","ES"],"as":["s","v"]}],"mark":{"type":"line","strokeWidth":2,"clip":true,"interpolate":"monotone"},
  "encoding":{"x":{"field":"t","type":"quantitative","scale":{"domain":[11.11,11.12],"nice":false,"zero":false},"axis":{"orient":"bottom","values":[11.11,11.112,11.114,11.116,11.118,11.12],"format":"~g","title":null}},
   "y":{"field":"v","type":"quantitative","scale":{"domain":[-0.05,1.07],"nice":false,"zero":false},"axis":{"orient":"left","values":[0,0.5,1],"format":"~g","title":null}},
   "color":{"field":"s","type":"nominal","scale":{"domain":["GS","ES"],"range":["#ff0000","#0000ff"]},"legend":null}}},
 {"data":{"values":[{}]},"mark":{"type":"text","align":"left","baseline":"middle","fontSize":19,"color":"#262626"},
  "encoding":{"x":{"datum":11.11027,"type":"quantitative","scale":{"domain":[11.11,11.12],"nice":false,"zero":false},"axis":{"orient":"top","values":[11.11,11.112,11.114,11.116,11.118,11.12],"labels":false,"title":null}},
   "y":{"datum":0.89,"type":"quantitative","scale":{"domain":[-0.05,1.07],"nice":false,"zero":false},"axis":{"orient":"right","values":[0,0.5,1],"labels":false,"title":null}},
   "text":{"value":"(b)"}}}
],"resolve":{"axis":{"x":"independent","y":"independent"}}},
{"width":553,"height":92,"layer":[
 {"data":{"name":"c"},"transform":[{"fold":["GS","ES"],"as":["s","v"]}],"mark":{"type":"line","strokeWidth":2,"clip":true},
  "encoding":{"x":{"field":"t","type":"quantitative","scale":{"domain":[12.26,12.27],"nice":false,"zero":false},"axis":{"orient":"bottom","values":[12.26,12.262,12.264,12.266,12.268,12.27],"format":"~g","title":null}},
   "y":{"field":"v","type":"quantitative","scale":{"domain":[-0.05,1.07],"nice":false,"zero":false},"axis":{"orient":"left","values":[0,0.5,1],"format":"~g","title":null}},
   "color":{"field":"s","type":"nominal","scale":{"domain":["GS","ES"],"range":["#ff0000","#0000ff"]},"legend":null}}},
 {"data":{"values":[{}]},"mark":{"type":"text","align":"left","baseline":"middle","fontSize":19,"color":"#262626"},
  "encoding":{"x":{"datum":12.26027,"type":"quantitative","scale":{"domain":[12.26,12.27],"nice":false,"zero":false},"axis":{"orient":"top","values":[12.26,12.262,12.264,12.266,12.268,12.27],"labels":false,"title":null}},
   "y":{"datum":0.89,"type":"quantitative","scale":{"domain":[-0.05,1.07],"nice":false,"zero":false},"axis":{"orient":"right","values":[0,0.5,1],"labels":false,"title":null}},
   "text":{"value":"(c)"}}}
],"resolve":{"axis":{"x":"independent","y":"independent"}}},
{"width":553,"height":92,"layer":[
 {"data":{"name":"d"},"transform":[{"fold":["GS","ES"],"as":["s","v"]}],"mark":{"type":"line","strokeWidth":2,"clip":true},
  "encoding":{"x":{"field":"t","type":"quantitative","scale":{"domain":[12.48,12.49],"nice":false,"zero":false},"axis":{"orient":"bottom","values":[12.48,12.482,12.484,12.486,12.488,12.49],"format":"~g","title":"Time ( μs)"}},
   "y":{"field":"v","type":"quantitative","scale":{"domain":[-0.05,1.07],"nice":false,"zero":false},"axis":{"orient":"left","values":[0,0.5,1],"format":"~g","title":null}},
   "color":{"field":"s","type":"nominal","scale":{"domain":["GS","ES"],"range":["#ff0000","#0000ff"]},"legend":null}}},
 {"data":{"values":[{}]},"mark":{"type":"text","align":"left","baseline":"middle","fontSize":19,"color":"#262626"},
  "encoding":{"x":{"datum":12.48027,"type":"quantitative","scale":{"domain":[12.48,12.49],"nice":false,"zero":false},"axis":{"orient":"top","values":[12.48,12.482,12.484,12.486,12.488,12.49],"labels":false,"title":null}},
   "y":{"datum":0.89,"type":"quantitative","scale":{"domain":[-0.05,1.07],"nice":false,"zero":false},"axis":{"orient":"right","values":[0,0.5,1],"labels":false,"title":null}},
   "text":{"value":"(d)"}}}
],"resolve":{"axis":{"x":"independent","y":"independent"}}}
]}
